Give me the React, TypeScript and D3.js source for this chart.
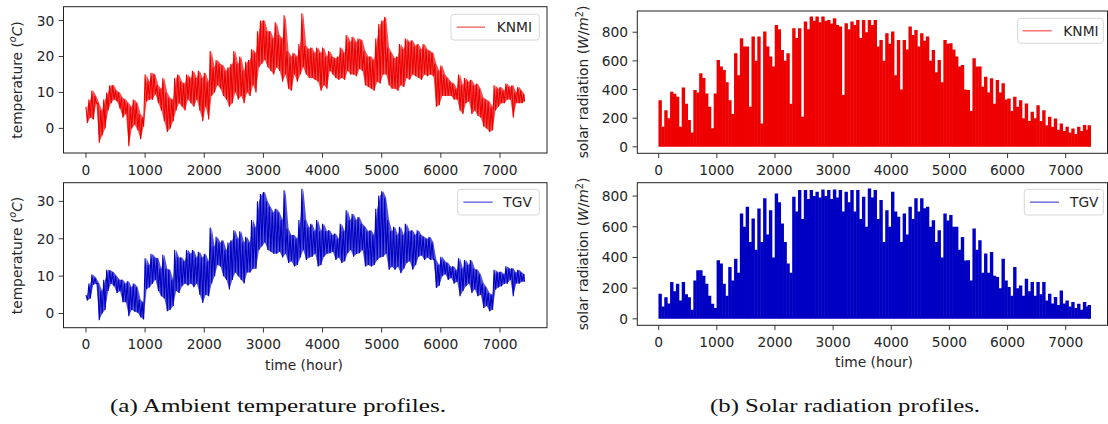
import React from 'react';
import * as d3 from 'd3';

// ---------------- DATA (50-hour bins) ----------------
const BIN_HOURS = 50;
const LAST_HOUR = 7416;

// KNMI ambient temperature: per-bin high and low (°C)
const knmiTempHi = [6, 8, 10.5, 9, 7, 5, 8, 10, 12, 12, 10.5, 10, 8.5, 8, 7, 6, 8, 7, 4, 3,
  15, 13, 15.5, 15, 12, 11, 14, 10, 8.5, 8, 14, 15, 13, 12.5, 15, 14, 16, 14, 16, 14,
  15.5, 13, 21.5, 17, 19, 18, 17.5, 16, 17, 18, 21.5, 18, 20, 16, 18.5, 19, 22, 21, 27, 30,
  30, 27, 27, 25, 29.5, 26, 25, 31.5, 21.5, 20, 21, 20, 23.5, 32, 23, 22, 22.5, 21, 22.5, 21,
  22.5, 20, 21.5, 20, 19.5, 20, 22.5, 21, 26, 24, 25.5, 24, 25, 24.5, 21.5, 20, 20, 19, 25, 29,
  30, 31, 22.5, 21, 19.5, 20, 23.5, 22, 25, 24, 24.5, 23, 23.5, 22, 23.5, 22, 21.5, 21, 18, 16,
  17.5, 15, 14, 13, 12.5, 11, 15, 12, 14, 13, 13.5, 12, 12.5, 11, 8.5, 8, 7.5, 6, 12, 11,
  11.5, 10.5, 12.5, 11.5, 12, 10, 11.5, 10.5, 9.5];
const knmiTempLo = [1.5, 3, 2.5, 7, -4, -2, 0, 5, 7, 8, 7.5, 5.5, 3, 4, -5, 0, 1, -0.5, -3, 0.5,
  7.5, 8, 8, 9.5, 7, 5, 2, -1, 0, 2, 5, 7, 6, 5, 8, 7, 6, 8, 5, 2,
  6, 2.5, 9, 10, 12, 11, 9, 8, 6, 7, 10, 8, 9, 7, 10, 9, 12, 10, 17, 18,
  19, 17, 16, 15, 17, 16, 13, 15, 11, 10.5, 15, 13, 15, 17, 15, 14, 14, 13.5, 13, 10.5,
  12, 11, 16, 15, 14, 13.5, 14, 13.5, 16, 15, 15, 14.5, 16.5, 16, 12, 11.5, 11, 10.5, 13, 12.5,
  15, 15, 12, 11, 11, 10.5, 12, 11.5, 14, 13.5, 15, 14.5, 14, 13.5, 15, 14.5, 15, 14.5, 6, 6.5,
  9, 9, 9, 9, 8, 8, 5, 4, 7, 7.5, 4, 5, 3.5, 3, 0.5, 0, -1, -0.5, 5, 6,
  7, 7, 8, 8, 3, 7, 7, 7, 7.5];

// TGV ambient temperature: per-bin high and low (°C)
const tgvTempHi = [5, 8, 10.4, 9.5, 8, 6, 9, 11.7, 11.5, 11, 10, 9, 9, 8, 8.6, 7, 8, 7, 3.7, 3,
  14.8, 13, 16, 15, 14.8, 12, 15.7, 12, 11.7, 9, 17, 15, 15, 14, 17, 16, 17, 15, 16.5, 15,
  16, 14, 23, 18, 20.5, 19, 19.6, 17, 19, 19.6, 22.3, 20, 22, 19, 20.5, 19, 25, 23, 30, 32,
  32.5, 30, 28.5, 27, 28, 27, 25, 33, 22.7, 21, 21, 20, 25, 33.4, 25, 23, 24, 22, 25, 22,
  24, 22, 22.3, 21, 21.4, 20, 24, 22, 27.6, 25, 26.7, 25, 25.8, 24, 23.2, 22, 22.3, 21, 28, 31.6,
  32.7, 31, 25, 22, 23.2, 21, 23.2, 21, 24, 22, 22.3, 21, 22.3, 21, 20.5, 20, 20.5, 19, 14.3, 13,
  15.2, 14, 13.5, 12.5, 12.6, 11.5, 14.8, 12, 14.3, 13, 14.3, 12, 11.7, 10.5, 8.1, 7, 5.5, 5, 11.7, 11,
  11.2, 10.5, 12.6, 12, 12.1, 11, 11.7, 11, 10.5];
const tgvTempLo = [3.5, 4, 7.7, 8, -1.8, 0, 1, 6, 8, 7.3, 5.5, 6, 3, 3, -0.7, 1, 0.5, 0.2, -1, -1.6,
  6.5, 7, 8, 9, 6, 4.6, 4, 0.6, 1, 2, 6, 5.5, 7.3, 8, 7.5, 8, 7, 8, 5, 2.8,
  5, 4.6, 8, 10, 13, 12.6, 10, 9, 6.4, 9, 11, 10, 9, 8, 11, 11, 12, 12, 17, 18,
  19, 17, 16.5, 16, 16, 16.5, 15, 16, 13.5, 14, 12.6, 13, 15, 17, 14.3, 15, 15.2, 16, 12.6, 13,
  15.2, 16, 16.1, 16.5, 14.3, 15, 13.5, 14, 16.1, 17, 15.2, 16, 16.1, 17, 12.6, 13, 12.6, 13, 14.3, 15,
  15.2, 16, 11.7, 12.5, 11.7, 12.5, 10.8, 12, 13.5, 14, 11.7, 13, 15.2, 15.5, 14.3, 15, 14.3, 14.5, 6.8, 7.5,
  10, 10.5, 9, 9.5, 8, 8.5, 4.6, 6, 7.3, 8, 5.5, 6.5, 4.6, 5, 1.5, 2, 0.6, 1, 6.4, 7,
  7.3, 8, 8, 9, 4.6, 8, 8, 8.5, 8.5];

// Solar radiation: daily peak level per bin (W/m²)
const knmiSolar = [326, 140, 256, 200, 385, 370, 350, 140, 415, 300, 187, 100, 396, 380, 513, 480, 373, 280, 130, 373,
  606, 560, 536, 450, 326, 230, 653, 500, 758, 700, 700, 280, 770, 600, 770, 163, 805, 700, 630, 560,
  851, 820, 676, 600, 653, 300, 828, 760, 828, 210, 875, 820, 910, 880, 910, 870, 910, 880, 886, 860,
  898, 850, 840, 361, 863, 820, 875, 850, 886, 760, 886, 800, 886, 850, 886, 700, 746, 600, 793, 720,
  805, 500, 746, 400, 746, 680, 840, 780, 816, 700, 793, 740, 770, 600, 676, 520, 606, 450, 746, 720,
  723, 680, 630, 560, 571, 400, 396, 250, 618, 560, 560, 420, 490, 380, 478, 300, 466, 380, 443, 330,
  338, 250, 350, 280, 326, 200, 303, 180, 245, 200, 291, 180, 256, 150, 210, 140, 198, 120, 163, 110,
  140, 100, 128, 90, 140, 110, 152, 120, 150];
const tgvSolar = [163, 80, 141, 100, 240, 180, 229, 120, 240, 160, 141, 60, 250, 316, 316, 280, 229, 150, 98, 70,
  381, 360, 229, 150, 338, 250, 392, 300, 687, 600, 730, 500, 654, 450, 719, 500, 785, 550, 708, 400,
  817, 760, 621, 500, 360, 300, 796, 700, 839, 650, 839, 780, 839, 800, 828, 790, 843, 800, 839, 780,
  843, 790, 839, 700, 828, 760, 839, 700, 839, 650, 796, 600, 850, 790, 839, 650, 774, 500, 708, 600,
  828, 700, 665, 500, 687, 550, 730, 650, 785, 700, 785, 720, 730, 600, 643, 500, 578, 400, 687, 640,
  676, 600, 600, 450, 534, 380, 381, 250, 589, 450, 512, 300, 425, 300, 436, 280, 272, 200, 392, 250,
  207, 150, 338, 200, 218, 150, 262, 180, 240, 150, 240, 160, 240, 120, 163, 100, 142, 90, 185, 100,
  120, 80, 109, 70, 98, 60, 109, 80, 90];

const hourTicks = [0, 1000, 2000, 3000, 4000, 5000, 6000, 7000];
const tempTicks = [0, 10, 20, 30];
const solarTicks = [0, 200, 400, 600, 800];
const seriesNames = ['KNMI', 'TGV'];
const captions = ['(a) Ambient temperature profiles.', '(b) Solar radiation profiles.'];

// ---------------- STYLE ----------------
const FONT = "'DejaVu Sans', sans-serif";
const TEXT = '#262626';
const RED = '#ee0000';
const BLUE = '#0000c4';
const FS = 13.8;

type Box = { x0: number; x1: number; y0: number; y1: number };
type Legend = { bx0: number; bx1: number; by0: number; by1: number; lx0: number; lx1: number; tx: number };

function TempLine({ hi, lo, x, y, color }: any) {
  const mid = (i: number) => Math.min(i * BIN_HOURS + BIN_HOURS / 2, LAST_HOUR);
  const band = d3.area<number>()
    .x((_, i) => x(mid(i)))
    .y0((_, i) => y(lo[i]))
    .y1((_, i) => y(hi[i]))(hi) || '';
  const pts: [number, number][] = [];
  hi.forEach((h: number, i: number) => {
    const t = i * BIN_HOURS;
    pts.push([t, h]);
    pts.push([Math.min(t + BIN_HOURS / 2, LAST_HOUR), lo[i]]);
  });
  const d = d3.line<[number, number]>().x(p => x(p[0])).y(p => y(p[1]))(pts) || '';
  return (
    <g>
      <path d={band} fill={color} fillOpacity={0.68} stroke="none" />
      <path d={d} fill="none" stroke={color} strokeWidth={1.1} />
    </g>
  );
}

function SolarStems({ vals, x, y, color }: any) {
  return (
    <g stroke={color} strokeWidth={3.4}>
      {vals.map((v: number, i: number) => {
        const xc = x(Math.min(i * BIN_HOURS + BIN_HOURS / 2, LAST_HOUR - 10));
        return <line key={i} x1={xc} x2={xc} y1={y(0)} y2={y(v)} />;
      })}
    </g>
  );
}

function Panel({ box, xDom, yDom, yTicks, legend, name, color, children, xLabelY }: any) {
  const x = d3.scaleLinear().domain(xDom).range([box.x0, box.x1]);
  const y = d3.scaleLinear().domain(yDom).range([box.y1, box.y0]);
  const lg: Legend = legend;
  const ly = (lg.by0 + lg.by1) / 2;
  const cid = `clip-${name}-${Math.round(box.x0)}-${Math.round(box.y0)}`;
  return (
    <g>
      <defs>
        <clipPath id={cid}>
          <rect x={box.x0} y={box.y0} width={box.x1 - box.x0} height={box.y1 - box.y0} />
        </clipPath>
      </defs>
      <g clipPath={`url(#${cid})`}>{children(x, y)}</g>
      <rect x={box.x0} y={box.y0} width={box.x1 - box.x0} height={box.y1 - box.y0}
        fill="none" stroke="#222" strokeWidth={1} />
      {hourTicks.map(t => (
        <g key={'x' + t}>
          <line x1={x(t)} x2={x(t)} y1={box.y1} y2={box.y1 + 4.8} stroke="#222" strokeWidth={0.9} />
          <text x={x(t)} y={xLabelY} textAnchor="middle" fontFamily={FONT} fontSize={FS} fill={TEXT}>{t}</text>
        </g>
      ))}
      {yTicks.map((v: number) => (
        <g key={'y' + v}>
          <line x1={box.x0 - 4.8} x2={box.x0} y1={y(v)} y2={y(v)} stroke="#222" strokeWidth={0.9} />
          <text x={box.x0 - 9.3} y={y(v) + 5} textAnchor="end" fontFamily={FONT} fontSize={FS} fill={TEXT}>{v}</text>
        </g>
      ))}
      <rect x={lg.bx0} y={lg.by0} width={lg.bx1 - lg.bx0} height={lg.by1 - lg.by0} rx={3}
        fill="white" fillOpacity={0.85} stroke="#d6d6d6" strokeWidth={1} />
      <line x1={lg.lx0} x2={lg.lx1} y1={ly} y2={ly} stroke={color} strokeOpacity={0.7} strokeWidth={1.2} />
      <text x={lg.tx} y={ly + 5} fontFamily={FONT} fontSize={FS} fill={TEXT}>{name}</text>
    </g>
  );
}

export default function App() {
  const L_TOP: Box = { x0: 63.5, x1: 547, y0: 6.7, y1: 153 };
  const L_BOT: Box = { x0: 63.5, x1: 547, y0: 182.7, y1: 327.7 };
  const R_TOP: Box = { x0: 637.3, x1: 1107.5, y0: 11, y1: 153.3 };
  const R_BOT: Box = { x0: 637.3, x1: 1107.5, y0: 182.7, y1: 325.3 };
  const xDomL = [-380, 7795];
  const xDomR = [-368, 7719];

  return (
    <svg width={1108} height={424} style={{ position: 'absolute', left: 0, top: 0, background: 'white' }}>
      <rect x={0} y={0} width={1108} height={424} fill="white" />
      <Panel box={L_TOP} xDom={xDomL} yDom={[-6.85, 33.85]} yTicks={tempTicks} name={seriesNames[0]} color={RED}
        xLabelY={175}
        legend={{ bx0: 451, bx1: 539.3, by0: 14.3, by1: 40, lx0: 456.7, lx1: 485, tx: 496.7 }}>
        {(x: any, y: any) => <TempLine hi={knmiTempHi} lo={knmiTempLo} x={x} y={y} color={RED} />}
      </Panel>
      <Panel box={L_BOT} xDom={xDomL} yDom={[-3.8, 35]} yTicks={tempTicks} name={seriesNames[1]} color={BLUE}
        xLabelY={349.3}
        legend={{ bx0: 457.7, bx1: 539.3, by0: 189.3, by1: 215, lx0: 463.3, lx1: 492.7, tx: 503.3 }}>
        {(x: any, y: any) => <TempLine hi={tgvTempHi} lo={tgvTempLo} x={x} y={y} color={BLUE} />}
      </Panel>
      <Panel box={R_TOP} xDom={xDomR} yDom={[-45, 948]} yTicks={solarTicks} name={seriesNames[0]} color={RED}
        xLabelY={175}
        legend={{ bx0: 1017.7, bx1: 1103.3, by0: 18.3, by1: 43.3, lx0: 1022.7, lx1: 1051.7, tx: 1063.3 }}>
        {(x: any, y: any) => <SolarStems vals={knmiSolar} x={x} y={y} color={RED} />}
      </Panel>
      <Panel box={R_BOT} xDom={xDomR} yDom={[-42, 887]} yTicks={solarTicks} name={seriesNames[1]} color={BLUE}
        xLabelY={346.7}
        legend={{ bx0: 1024.3, bx1: 1103.3, by0: 189.3, by1: 215, lx0: 1030, lx1: 1059, tx: 1070 }}>
        {(x: any, y: any) => <SolarStems vals={tgvSolar} x={x} y={y} color={BLUE} />}
      </Panel>

      {[80, 255.5].map(cy => (
        <text key={'tl' + cy} transform={`translate(21.5, ${cy}) rotate(-90)`} textAnchor="middle"
          fontFamily={FONT} fontSize={FS} fill={TEXT}>
          temperature (<tspan fontSize={FS * 0.7} fontStyle="italic" dy={-5.5}>o</tspan>
          <tspan fontStyle="italic" dy={5.5}>C</tspan>)
        </text>
      ))}
      {[82, 254].map(cy => (
        <text key={'sl' + cy} transform={`translate(588, ${cy}) rotate(-90)`} textAnchor="middle"
          fontFamily={FONT} fontSize={FS} fill={TEXT}>
          solar radiation (<tspan fontStyle="italic">W</tspan>/<tspan fontStyle="italic">m</tspan>
          <tspan fontSize={FS * 0.7} dy={-5.5}>2</tspan><tspan dy={5.5}>)</tspan>
        </text>
      ))}
      <text x={304} y={370} textAnchor="middle" fontFamily={FONT} fontSize={FS} fill={TEXT}>time (hour)</text>
      <text x={874} y={366.5} textAnchor="middle" fontFamily={FONT} fontSize={FS} fill={TEXT}>time (hour)</text>

      <text x={110} y={412} fontFamily="'Liberation Serif', 'DejaVu Serif', serif" fontSize={19.5} fill="#111"
        textLength={336} lengthAdjust="spacingAndGlyphs">{captions[0]}</text>
      <text x={710} y={412} fontFamily="'Liberation Serif', 'DejaVu Serif', serif" fontSize={19.5} fill="#111"
        textLength={270} lengthAdjust="spacingAndGlyphs">{captions[1]}</text>
    </svg>
  );
}
